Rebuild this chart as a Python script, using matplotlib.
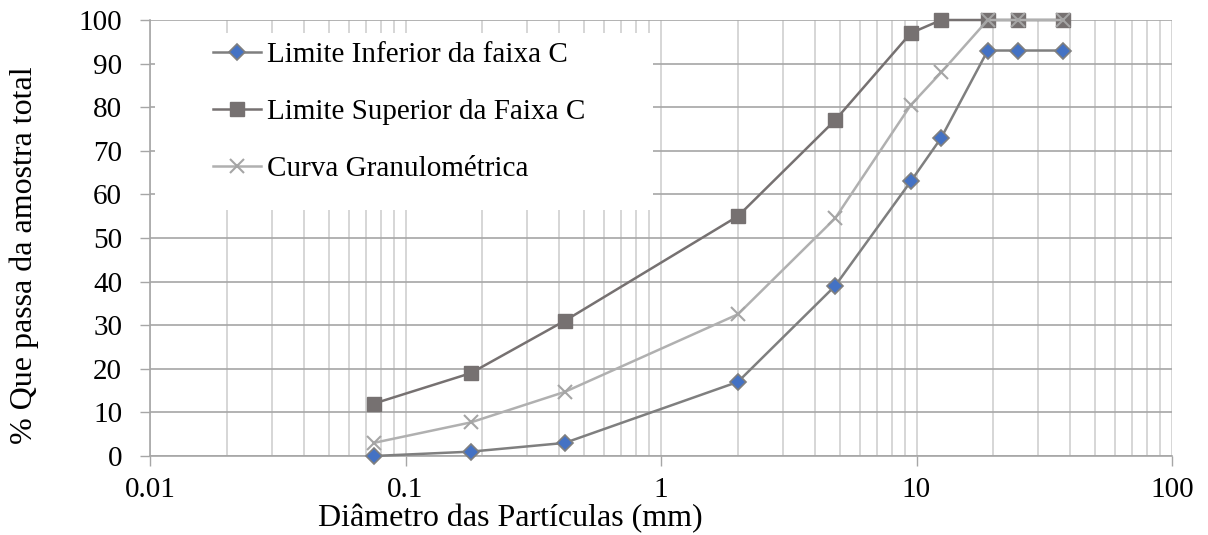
import matplotlib
matplotlib.use("Agg")
import matplotlib.pyplot as plt
from matplotlib.patches import Rectangle
from matplotlib.ticker import LogLocator, FixedLocator, NullFormatter

# Sieve openings (mm) and percent passing
diametro = [0.075, 0.18, 0.42, 2.0, 4.8, 9.5, 12.5, 19.0, 25.0, 37.5]
lim_inferior = [0, 1, 3, 17, 39, 63, 73, 93, 93, 93]
lim_superior = [12, 19, 31, 55, 77, 97, 100, 100, 100, 100]
curva = [3, 7.7, 14.7, 32.5, 54.5, 80.5, 88, 100, 100, 100]

x_ticks = [0.01, 0.1, 1, 10, 100]
x_tick_labels = ["0.01", "0.1", "1", "10", "100"]
y_ticks = list(range(0, 101, 10))

plt.rcParams["font.family"] = ["Liberation Serif", "DejaVu Serif"]

fig = plt.figure(figsize=(12.08, 5.35), dpi=100)
ax = fig.add_axes([150 / 1208, 1 - 456 / 535, 1022 / 1208, 436 / 535])

ax.set_xscale("log")
ax.set_xlim(0.01, 100)
ax.set_ylim(0, 100)

ax.xaxis.set_major_locator(FixedLocator(x_ticks))
ax.set_xticklabels(x_tick_labels)
ax.xaxis.set_minor_locator(LogLocator(base=10, subs=range(2, 10)))
ax.xaxis.set_minor_formatter(NullFormatter())
ax.set_yticks(y_ticks)

ax.grid(True, which="major", axis="y", color="#a6a6a6", linewidth=1.2, zorder=0)
ax.grid(True, which="both", axis="x", color="#d0d0d0", linewidth=1.2, zorder=0)
ax.set_axisbelow(True)

ax.tick_params(axis="both", which="major", labelsize=21, color="#a6a6a6",
               length=7, width=1)
ax.tick_params(axis="x", which="minor", length=0)
ax.tick_params(axis="y", pad=13)
ax.tick_params(axis="x", pad=8)

for side in ["top", "right"]:
    ax.spines[side].set_visible(False)
for side in ["left", "bottom"]:
    ax.spines[side].set_color("#a6a6a6")
    ax.spines[side].set_linewidth(1.2)

# white block behind the legend (covers grid)
ax.add_patch(Rectangle((0.005, 0.564), 0.487, 0.406, transform=ax.transAxes,
                       facecolor="white", edgecolor="none", zorder=1))

ax.plot(diametro, lim_inferior, color="#7f7f7f", linewidth=1.8, marker="D",
        markersize=8.5, markerfacecolor="#4472c4", markeredgecolor="#7f7f7f",
        markeredgewidth=1.2, label="Limite Inferior da faixa C", zorder=3,
        clip_on=False)
ax.plot(diametro, lim_superior, color="#767171", linewidth=1.8, marker="s",
        markersize=10.5, markerfacecolor="#767171", markeredgecolor="#767171",
        label="Limite Superior da Faixa C", zorder=3, clip_on=False)
ax.plot(diametro, curva, color="#b0b0b0", linewidth=1.8, marker="x",
        markersize=10, markeredgewidth=1.5, markeredgecolor="#a5a5a5",
        label="Curva Granulométrica", zorder=4, clip_on=False)

leg = ax.legend(loc="upper left", bbox_to_anchor=(0.062, 0.95), frameon=False,
                fontsize=21, labelspacing=1.05, handlelength=1.65,
                handletextpad=0.2, borderpad=0, borderaxespad=0)
leg.set_zorder(5)

fig.text(24 / 1208, 1 - 255 / 535, "% Que passa da amostra total",
         rotation=90, ha="center", va="center", fontsize=23)
fig.text(510 / 1208, 1 - 519 / 535, "Diâmetro das Partículas (mm)",
         ha="center", va="center", fontsize=23)

fig.savefig("out.png", dpi=100)
